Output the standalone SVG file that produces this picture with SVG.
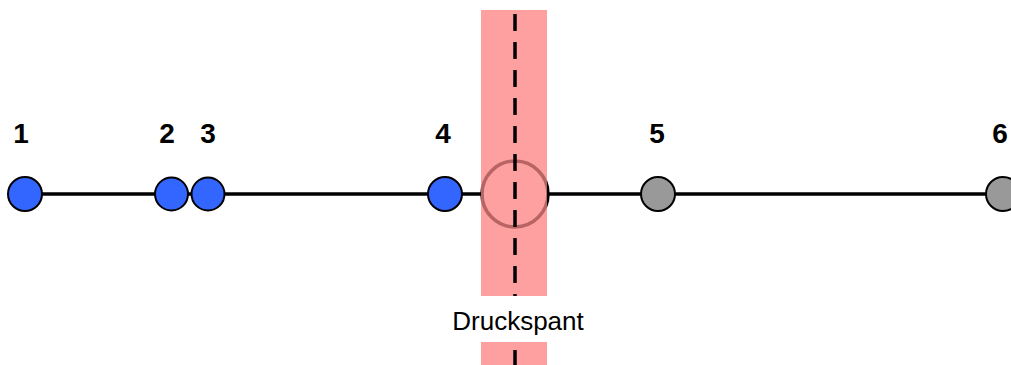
<svg xmlns="http://www.w3.org/2000/svg" width="1011" height="365" viewBox="0 0 1011 365">
  <style>
    .lbl { font-family: "Liberation Sans", Arial, sans-serif; font-weight: bold; font-size: 28px; fill: #000; text-anchor: middle; }
    .txt { font-family: "Liberation Sans", Arial, sans-serif; font-size: 26px; fill: #000; text-anchor: middle; }
    .blue { fill: #3366ff; stroke: #000; stroke-width: 2; }
    .grey { fill: #999999; stroke: #000; stroke-width: 2; }
  </style>
  <defs>
    <clipPath id="bandclip"><rect x="481" y="10" width="66" height="355"/></clipPath>
  </defs>
  <rect width="1011" height="365" fill="#fff"/>
  <g id="connectors">
    <line x1="25" y1="194" x2="1011" y2="194" stroke="#000" stroke-width="3.5"/>
  </g>
  <g id="druckspant">
    <circle cx="515" cy="194" r="33" fill="#fff" stroke="#000" stroke-width="3.5"/>
    <rect x="481" y="10" width="66" height="355" fill="#ffa0a0"/>
    <circle cx="515" cy="194" r="33" fill="none" stroke="#b86464" stroke-width="3.5" clip-path="url(#bandclip)"/>
    <line x1="515" y1="14" x2="515" y2="365" stroke="#000" stroke-width="3.5" stroke-dasharray="17 11"/>
    <rect x="440" y="296" width="160" height="46" fill="#fff"/>
    <text class="txt" x="518" y="330">Druckspant</text>
  </g>
  <g id="node1"><circle class="blue" cx="25" cy="194" r="17"/><text class="lbl" x="21" y="143">1</text></g>
  <g id="node2"><circle class="blue" cx="171.5" cy="194" r="16.5"/><text class="lbl" x="167" y="143">2</text></g>
  <g id="node3"><circle class="blue" cx="208" cy="194" r="16.5"/><text class="lbl" x="208" y="143">3</text></g>
  <g id="node4"><circle class="blue" cx="445" cy="194" r="17"/><text class="lbl" x="443" y="143">4</text></g>
  <g id="node5"><circle class="grey" cx="658" cy="194" r="17"/><text class="lbl" x="657" y="143">5</text></g>
  <g id="node6"><circle class="grey" cx="1003" cy="194" r="17"/><text class="lbl" x="1000" y="143">6</text></g>
</svg>
